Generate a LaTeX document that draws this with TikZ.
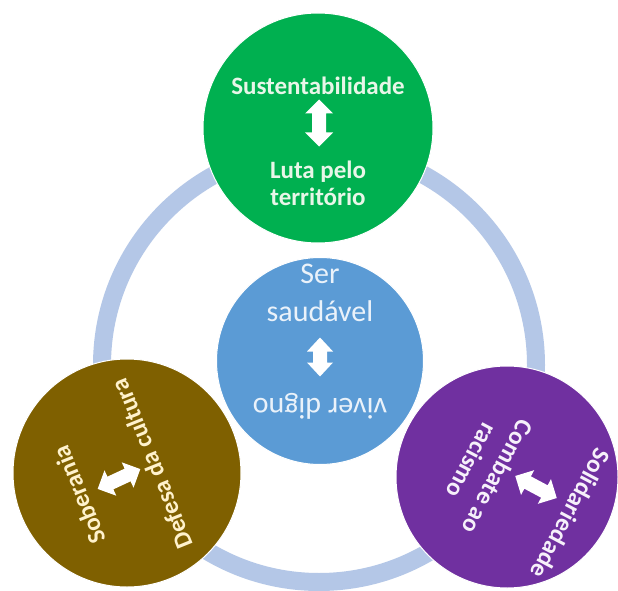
\documentclass[tikz,border=0pt]{standalone}
\usepackage{fontspec}
\setmainfont{Carlito}
\definecolor{cgreen}{HTML}{00B050}
\definecolor{cblue}{HTML}{5B9BD5}
\definecolor{cbrown}{HTML}{7F6000}
\definecolor{cpurple}{HTML}{7030A0}
\definecolor{cring}{HTML}{B4C7E7}
\definecolor{tgreen}{HTML}{E8F6E8}
\definecolor{tblue}{HTML}{EAF2FA}
\definecolor{tbrown}{HTML}{FFF2CC}
\definecolor{tpurple}{HTML}{F6F0FA}
\tikzset{
  circ/.style={circle, draw=white, line width=1pt, inner sep=0pt},
  ringnode/.style={circle, draw=cring, line width=18pt, inner sep=0pt, minimum size=434pt},
  btext/.style={font=\fontsize{25}{27}\selectfont\bfseries, inner sep=0pt},
  rtext/.style={font=\fontsize{30}{36}\selectfont, inner sep=0pt, text=tblue},
  pics/darrow/.style n args={3}{code={
    \fill[#3] (0,{-#1}) -- ({#2},{-#1+14}) -- (7,{-#1+14}) -- (7,{#1-14}) -- ({#2},{#1-14})
      -- (0,{#1}) -- ({-#2},{#1-14}) -- (-7,{#1-14}) -- (-7,{-#1+14}) -- ({-#2},{-#1+14}) -- cycle;
  }}
}
\begin{document}
\begin{tikzpicture}[x=1pt,y=-1pt]
\useasboundingbox[fill=white] (0,0) rectangle (618,591);
% ring
\node[ringnode] (ring) at (319,365) {};
% circles
\node[circ, fill=cgreen,  minimum size=230pt] (G)  at (318,128) {};
\node[circ, fill=cblue,   minimum size=207pt] (B)  at (320,361) {};
\node[circ, fill=cbrown,  minimum size=228pt] (Br) at (127,473) {};
\node[circ, fill=cpurple, minimum size=222pt] (P)  at (507,477) {};
% green
\node[btext, text=tgreen, anchor=base] (g1) at (318,95) {Sustentabilidade};
\pic at (319,123) {darrow={23.5}{14}{white}};
\node[btext, text=tgreen, anchor=base] (g2) at (318,178) {Luta pelo};
\node[btext, text=tgreen, anchor=base] (g3) at (318,205) {território};
% blue
\node[rtext, anchor=base] (b1) at (320,283) {Ser};
\node[rtext, anchor=base] (b2) at (320,321) {saudável};
\pic at (320,357) {darrow={19.5}{13}{white}};
\node[rtext, rotate=180, anchor=base] (b3) at (320,398) {viver digno};
% brown
\node[btext, text=tbrown, rotate=112] (br1) at (79,495) {Soberania};
\pic[rotate=115] at (119,479) {darrow={23.5}{14}{white}};
\node[btext, text=tbrown, rotate=112] (br2) at (152,464) {Defesa da cultura};
% purple
\node[btext, text=tpurple, rotate=-118] (p1) at (571,514) {Solidariedade};
\pic[rotate=-118] at (536,487) {darrow={23.5}{14}{white}};
\node[btext, text=tpurple, rotate=-118] (p2) at (498,477) {Combate ao};
\node[btext, text=tpurple, rotate=-118] (p3) at (472,461) {racismo};
\end{tikzpicture}
\end{document}
